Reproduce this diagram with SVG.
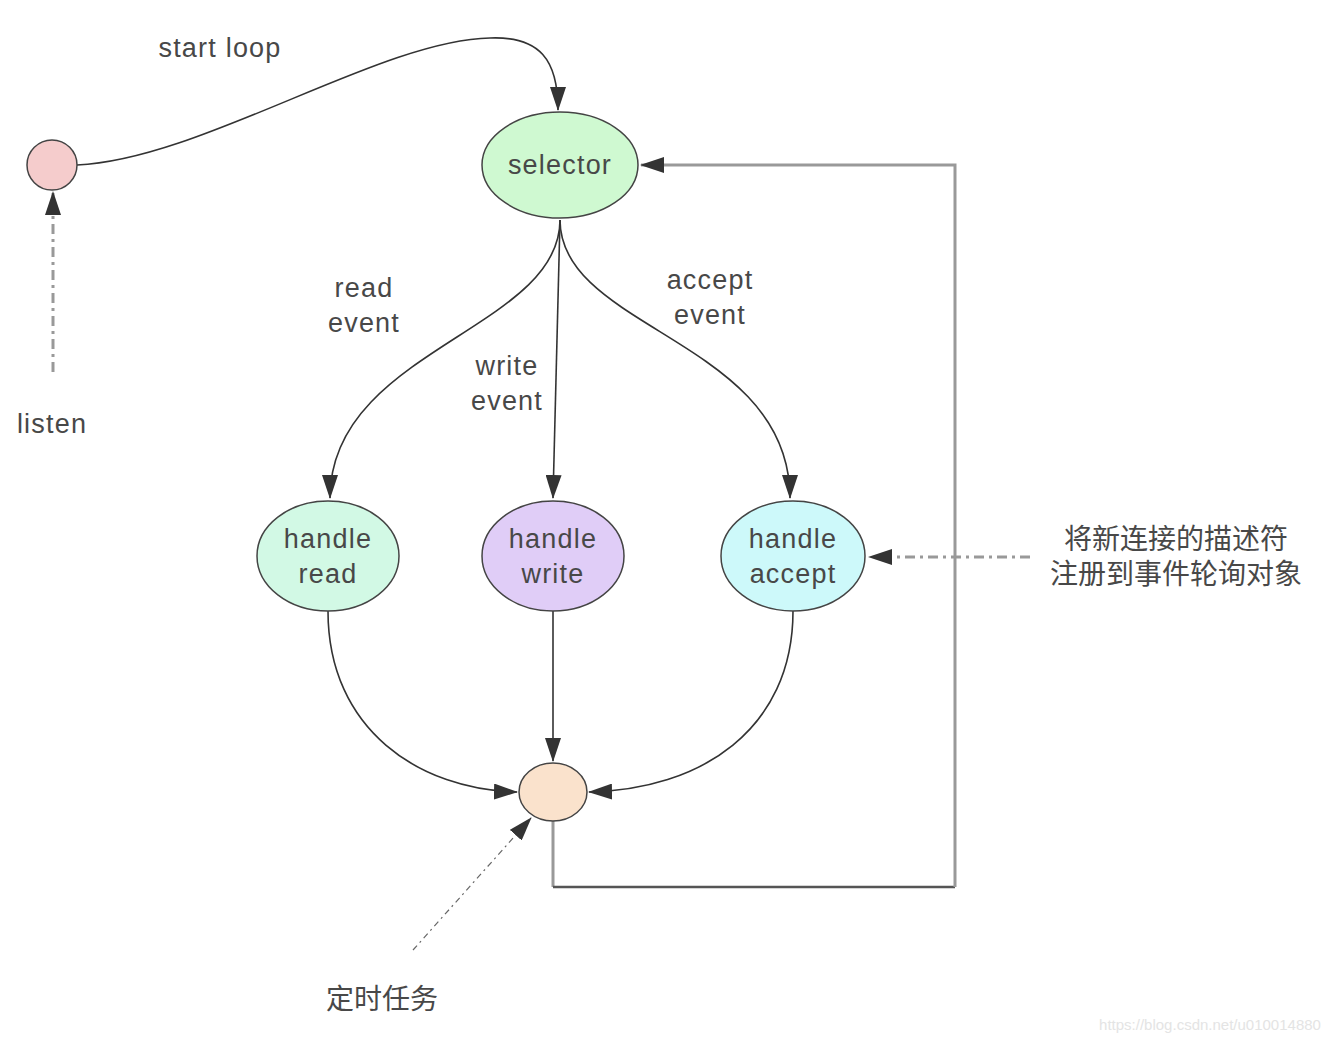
<svg xmlns="http://www.w3.org/2000/svg" width="1336" height="1042" viewBox="0 0 1336 1042">
<style>
.node{stroke:#444;stroke-width:1.5}
.lbl{font-family:"Liberation Sans",Arial,sans-serif;font-size:27px;letter-spacing:1.2px;fill:#484848;text-anchor:middle}
.cn{font-family:"Liberation Sans","Noto Sans CJK SC",sans-serif;font-size:28px;fill:#484848;text-anchor:middle}
.edge{fill:none;stroke:#333;stroke-width:1.6}
.gray{fill:none;stroke:#999;stroke-width:3}
.dash{fill:none;stroke:#999;stroke-width:3;stroke-dasharray:10,5,3,5}
.thin{fill:none;stroke:#666;stroke-width:1.2;stroke-dasharray:6,4,2,4}
</style>
<defs>
<marker id="ah" viewBox="0 0 24 16" refX="23" refY="8" markerWidth="24" markerHeight="16" markerUnits="userSpaceOnUse" orient="auto">
<path d="M0,0 L24,8 L0,16 Z" fill="#333"/>
</marker>
</defs>
<rect width="1336" height="1042" fill="#fff"/>
<g id="connectors">
<path class="edge" d="M77,165 C200,160 380,40 490,38 C540,36 558,60 558,110" marker-end="url(#ah)"/>
<path class="edge" d="M560,220 C560,330 330,350 330,498" marker-end="url(#ah)"/>
<path class="edge" d="M560,220 L553,498" marker-end="url(#ah)"/>
<path class="edge" d="M560,220 C560,330 790,340 790,498" marker-end="url(#ah)"/>
<path class="edge" d="M328,611 C328,730 420,790 517,792" marker-end="url(#ah)"/>
<path class="edge" d="M553,611 L553,761" stroke-width="2.5" stroke="#777" marker-end="url(#ah)"/>
<path class="edge" d="M793,611 C793,730 700,790 589,792" marker-end="url(#ah)"/>
<path class="gray" d="M553,821 L553,887"/>
<path d="M553,887 L955,887" fill="none" stroke="#555" stroke-width="2.5"/>
<path class="gray" d="M955,887 L955,165 L641,165" marker-end="url(#ah)"/>
<path class="dash" d="M1030,557 L869,557" marker-end="url(#ah)"/>
<path class="dash" d="M53,372 L53,192" marker-end="url(#ah)"/>
<path class="thin" d="M413,950 L531,818" marker-end="url(#ah)"/>
</g>
<g id="start"><circle class="node" cx="52" cy="165" r="25" fill="#f5cccc"/></g>
<g id="selector"><ellipse class="node" cx="560" cy="165" rx="78" ry="53" fill="#cff9d1"/><text class="lbl" x="560" y="174">selector</text></g>
<g id="handle-read"><ellipse class="node" cx="328" cy="556" rx="71" ry="55" fill="#d2f9e5"/><text class="lbl" x="328" y="548">handle</text><text class="lbl" x="328" y="583">read</text></g>
<g id="handle-write"><ellipse class="node" cx="553" cy="556" rx="71" ry="55" fill="#e0cdf7"/><text class="lbl" x="553" y="548">handle</text><text class="lbl" x="553" y="583">write</text></g>
<g id="handle-accept"><ellipse class="node" cx="793" cy="556" rx="72" ry="55" fill="#cdf9fa"/><text class="lbl" x="793" y="548">handle</text><text class="lbl" x="793" y="583">accept</text></g>
<g id="end"><ellipse class="node" cx="553" cy="792" rx="34" ry="29" fill="#fae2cc"/></g>
<g id="labels">
<text class="lbl" x="220" y="57">start loop</text>
<text class="lbl" x="364" y="297">read</text><text class="lbl" x="364" y="332">event</text>
<text class="lbl" x="507" y="375">write</text><text class="lbl" x="507" y="410">event</text>
<text class="lbl" x="710" y="289">accept</text><text class="lbl" x="710" y="324">event</text>
<text class="lbl" x="52" y="433">listen</text>
<text class="cn" x="1176" y="549">将新连接的描述符</text>
<text class="cn" x="1176" y="584">注册到事件轮询对象</text>
<text class="cn" x="382" y="1009">定时任务</text>
<text x="1210" y="1030" font-family="Liberation Sans,Arial,sans-serif" font-size="15" fill="#e4e4e4" text-anchor="middle">https://blog.csdn.net/u010014880</text>
</g>
</svg>
